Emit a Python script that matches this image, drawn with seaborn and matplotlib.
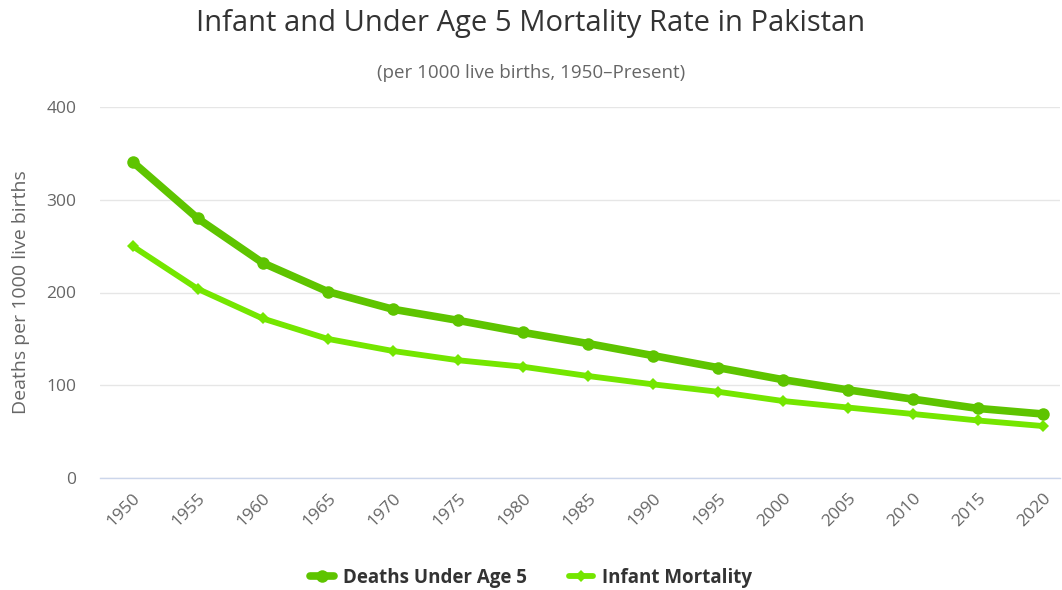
import matplotlib
matplotlib.use("Agg")
import matplotlib.pyplot as plt
import seaborn as sns
import pandas as pd

# data
years = [1950, 1955, 1960, 1965, 1970, 1975, 1980, 1985, 1990, 1995, 2000, 2005, 2010, 2015, 2020]
under5 = [341, 280, 232, 201, 182, 170, 157, 145, 132, 119, 106, 95, 85, 75, 69]
infant = [250, 204, 172, 150, 137, 127, 120, 110, 101, 93, 83, 76, 69, 62, 56]

series_names = ["Deaths Under Age 5", "Infant Mortality"]
colors = ["#5ec400", "#74e600"]

df = pd.DataFrame({
    "year": years * 2,
    "rate": under5 + infant,
    "series": [series_names[0]] * len(years) + [series_names[1]] * len(years),
})

sns.set_style("white")
plt.rcParams["font.family"] = ["Open Sans", "DejaVu Sans"]

fig = plt.figure(figsize=(10.62, 5.9), dpi=100)
ax = fig.add_axes([100 / 1062, 1 - 478 / 590, 960 / 1062, 371 / 590])

sns.lineplot(data=df[df.series == series_names[0]], x="year", y="rate",
             color=colors[0], linewidth=5.5, marker="o", markersize=9,
             markeredgewidth=0, ax=ax, label=series_names[0])
sns.lineplot(data=df[df.series == series_names[1]], x="year", y="rate",
             color=colors[1], linewidth=4.2, marker="D", markersize=6,
             markeredgewidth=0, ax=ax, label=series_names[1])

ax.set_xlim(1947.5, 2021.3)
ax.set_ylim(0, 400)
ax.set_yticks([0, 100, 200, 300, 400])
ax.set_xticks(years)
ax.set_xticklabels([str(y) for y in years], rotation=45, ha="right",
                   rotation_mode="anchor", color="#666666", fontsize=12.5)
ax.tick_params(axis="x", length=0, pad=9)
ax.tick_params(axis="y", length=0, pad=17, labelcolor="#666666", labelsize=12.5)

ax.grid(axis="y", color="#e6e6e6", linewidth=1)
ax.grid(axis="x", visible=False)
for side in ["top", "right", "left"]:
    ax.spines[side].set_visible(False)
ax.spines["bottom"].set_color("#ccd6eb")
ax.spines["bottom"].set_linewidth(1)

ax.set_xlabel("")
ax.set_ylabel("Deaths per 1000 live births", color="#666666", fontsize=14)
ax.yaxis.set_label_coords(-0.073, 0.5)

fig.text(0.5, 1 - 24 / 590, "Infant and Under Age 5 Mortality Rate in Pakistan",
         ha="center", va="center", fontsize=21, color="#333333")
fig.text(0.5, 1 - 73 / 590, "(per 1000 live births, 1950\u2013Present)",
         ha="center", va="center", fontsize=13.5, color="#666666")

leg = ax.legend(loc="center", bbox_to_anchor=(0.5, 1 - 578 / 590), bbox_transform=fig.transFigure,
                ncol=2, frameon=False, prop={"weight": "bold", "size": 13.5},
                handlelength=1.3, columnspacing=2.2, handletextpad=0.5)
for t in leg.get_texts():
    t.set_color("#333333")

fig.savefig("out.png", dpi=100)
